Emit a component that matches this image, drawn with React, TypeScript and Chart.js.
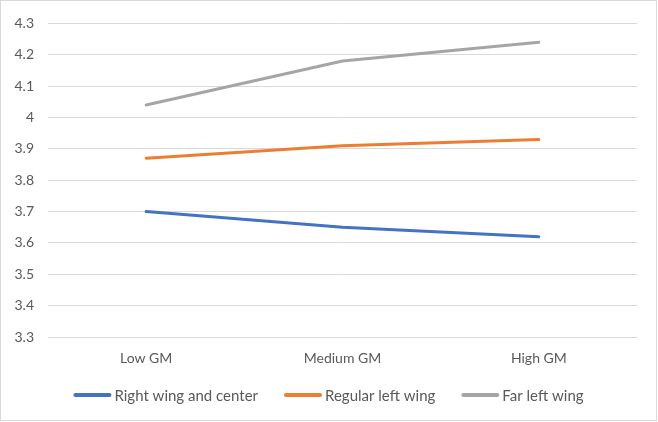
import React, { useEffect, useRef } from "react";
import { Chart, registerables } from "chart.js";

Chart.register(...registerables);

const categories = ["Low GM", "Medium GM", "High GM"];
const seriesNames = ["Right wing and center", "Regular left wing", "Far left wing"];
const rightWing = [3.7, 3.65, 3.62];
const regularLeft = [3.87, 3.91, 3.93];
const farLeft = [4.04, 4.18, 4.24];
const colors = ["#4472C4", "#ED7D31", "#A5A5A5"];
const yMin = 3.3;
const yMax = 4.3;
const yStep = 0.1;

const FONT = "Lato, 'Open Sans', sans-serif";
const TEXT = "#595959";

const bottomLegend = {
  id: "bottomLegend",
  afterDraw(chart: any) {
    const ctx = chart.ctx;
    const items = chart.data.datasets;
    ctx.save();
    ctx.font = `15px ${FONT}`;
    const lineLen = 38;
    const textGap = 3;
    const itemGap = 26;
    const widths = items.map((d: any) => ctx.measureText(d.label).width);
    const total =
      widths.reduce((a: number, w: number) => a + lineLen + textGap + w, 0) +
      itemGap * (items.length - 1);
    let x = (chart.width - total) / 2;
    const y = 394;
    ctx.textBaseline = "middle";
    ctx.textAlign = "left";
    items.forEach((d: any, i: number) => {
      ctx.strokeStyle = d.borderColor;
      ctx.lineWidth = 4;
      ctx.lineCap = "round";
      ctx.beginPath();
      ctx.moveTo(x + 2, y);
      ctx.lineTo(x + lineLen - 2, y);
      ctx.stroke();
      ctx.fillStyle = TEXT;
      ctx.fillText(d.label, x + lineLen + textGap, y + 1);
      x += lineLen + textGap + widths[i] + itemGap;
    });
    ctx.restore();
  },
};

export default function App() {
  const ref = useRef<HTMLCanvasElement>(null);
  useEffect(() => {
    document.body.style.margin = "0";
    const ctx = ref.current!;
    const values = [rightWing, regularLeft, farLeft];
    const chart = new Chart(ctx, {
      type: "line",
      data: {
        labels: categories,
        datasets: seriesNames.map((name, i) => ({
          label: name,
          data: values[i],
          borderColor: colors[i],
          backgroundColor: colors[i],
          borderWidth: 3,
          borderCapStyle: "round" as const,
          pointRadius: 0,
          pointHoverRadius: 0,
          tension: 0,
        })),
      },
      plugins: [bottomLegend],
      options: {
        animation: false,
        responsive: false,
        devicePixelRatio: 1,
        layout: { padding: { top: 20, right: 19, left: 0, bottom: 40 } },
        plugins: {
          tooltip: { enabled: false },
          legend: { display: false },
        },
        scales: {
          x: {
            offset: true,
            grid: { display: false },
            border: { display: false },
            ticks: { color: TEXT, font: { family: FONT, size: 14 }, padding: 5 },
            afterFit: (s: any) => {
              s.height = 43;
            },
          },
          y: {
            min: yMin,
            max: yMax,
            grid: { color: "#d9d9d9", lineWidth: 1, drawTicks: false },
            border: { display: false },
            ticks: {
              stepSize: yStep,
              padding: 14,
              color: TEXT,
              font: { family: FONT, size: 14 },
              callback: (v: any) => String(Math.round(Number(v) * 10) / 10),
            },
            afterFit: (s: any) => {
              s.width = 47;
            },
          },
        },
      },
    });
    return () => chart.destroy();
  }, []);
  return (
    <div
      style={{
        position: "absolute",
        left: 0,
        top: 0,
        width: 657,
        height: 421,
        border: "1px solid #d9d9d9",
        boxSizing: "border-box",
        background: "#fff",
      }}
    >
      <canvas ref={ref} width={655} height={419} style={{ display: "block" }} />
    </div>
  );
}
